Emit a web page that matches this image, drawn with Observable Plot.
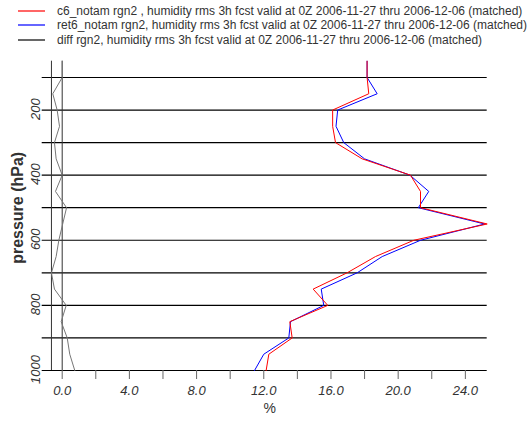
<!DOCTYPE html>
<html><head><meta charset="utf-8">
<script src="https://cdn.jsdelivr.net/npm/d3@7"></script>
<script src="https://cdn.jsdelivr.net/npm/@observablehq/plot@0.6"></script>
<style>
body{margin:0;background:#fff;font-family:"Liberation Sans",Arial,sans-serif;}
#wrap{position:relative;width:529px;height:421px;overflow:hidden;}
#legend{position:absolute;left:0;top:0;width:529px;height:50px;}
.item{position:absolute;left:0;height:14px;line-height:14px;font-size:12px;color:#333;white-space:nowrap;}
.sw{position:absolute;left:18px;top:6px;}
.lt{position:absolute;left:57px;top:0;}
#chart{position:absolute;left:0;top:50px;}
</style></head>
<body><div id="wrap"><div id="legend"></div><div id="chart"></div></div>
<script>
const levels = [50,100,150,200,250,300,350,400,450,500,550,600,650,700,750,800,850,900,950,1000];
const c6   = [18.15,18.15,18.25,16.1,16.1,16.27,17.86,20.73,21.33,21.33,25.3,20.93,18.65,16.96,14.94,15.81,13.55,13.69,12.3,12.14];
const ret6 = [18.15,18.15,18.75,16.4,16.3,16.76,18.0,20.7,21.82,21.2,25.15,21.33,19.05,17.56,15.42,15.57,13.59,13.49,12.0,11.45];
const diff = [0,0,-0.56,-0.3,-0.16,-0.46,-0.36,0,-0.4,0.26,0.03,-0.2,-0.36,-0.64,-0.46,0.24,-0.06,0.3,0.45,0.75];
const seriesNames = [
  "c6_notam rgn2 , humidity rms 3h fcst valid at 0Z 2006-11-27 thru 2006-12-06 (matched)",
  "ret6_notam rgn2, humidity rms 3h fcst valid at 0Z 2006-11-27 thru 2006-12-06 (matched)",
  "diff rgn2, humidity rms 3h fcst valid at 0Z 2006-11-27 thru 2006-12-06 (matched)"
];
const seriesColors = ["#ff0000","#0000ff","#000000"];
const xTicks = [0,2,4,6,8,10,12,14,16,18,20,22,24];
const yGrid = [100,200,300,400,500,600,700,800,900,1000];
const yLabels = [200,400,600,800,1000];
const xLabel = "%";
const yLabel = "pressure (hPa)";

// legend
const leg = document.getElementById("legend");
const legTops = [4,18,33];
const NS = "http://www.w3.org/2000/svg";
seriesNames.forEach((n,i)=>{
  const it = document.createElement("div");
  it.className="item"; it.style.top = legTops[i]+"px"; it.style.width="529px";
  const sw = document.createElementNS(NS,"svg"); sw.setAttribute("class","sw");
  sw.setAttribute("width","27"); sw.setAttribute("height","2");
  const ln = document.createElementNS(NS,"line");
  ln.setAttribute("x1","0"); ln.setAttribute("x2","27"); ln.setAttribute("y1","1"); ln.setAttribute("y2","1");
  ln.setAttribute("stroke", seriesColors[i]); ln.setAttribute("stroke-width","1.2");
  sw.appendChild(ln);
  const t = document.createElement("span"); t.className="lt"; t.textContent = n;
  it.appendChild(sw); it.appendChild(t); leg.appendChild(it);
});

const rows = levels.map((p,i)=>({p, c6:c6[i], ret6:ret6[i], diff:diff[i]}));

const chart = Plot.plot({
  width:529, height:371,
  marginLeft:41.7, marginRight:42.3, marginTop:10.7, marginBottom:51,
  style:{fontFamily:"'Liberation Sans', Arial, sans-serif", background:"#fff"},
  x:{domain:[-1.19,25.3], axis:null},
  y:{domain:[1000,50], axis:null},
  marks:[
    Plot.ruleY(yGrid, {y:d=>d, stroke:"#000", strokeWidth:1.2}),
    Plot.ruleX([d3.min(diff)], {x:d=>d, stroke:"#333", strokeWidth:1}),
    Plot.ruleX([0], {x:d=>d, stroke:"#333", strokeWidth:1}),
    Plot.axisX(xTicks, {anchor:"bottom", tickSize:9, tickPadding:6, stroke:"#666",
      tickFormat:d=> d%4===0 ? d.toFixed(1) : "", fontSize:13, fontStyle:"italic", fill:"#333", label:null}),
    Plot.text(yLabels, {y:d=>d, frameAnchor:"left", textAnchor:"middle", lineAnchor:"middle", dx:-6.4, dy:-1, rotate:-90, text:d=>String(d),
      fontSize:13, fontStyle:"italic", fill:"#333"}),
    Plot.text([yLabel], {frameAnchor:"left", textAnchor:"middle", lineAnchor:"middle", dx:-24.5, dy:-8, rotate:-90, text:d=>d,
      fontSize:16, fontWeight:"bold", fill:"#333"}),
    Plot.text([xLabel], {frameAnchor:"bottom", dx:5, dy:42, text:d=>d, fontSize:14, fill:"#333"}),
    Plot.line(rows, {x:"diff", y:"p", stroke:"#777", strokeWidth:1}),
    Plot.line(rows, {x:"ret6", y:"p", stroke:"#0000ff", strokeWidth:1}),
    Plot.line(rows, {x:"c6", y:"p", stroke:"#ff0000", strokeWidth:1})
  ]
});
document.getElementById("chart").appendChild(chart);
</script></body></html>
